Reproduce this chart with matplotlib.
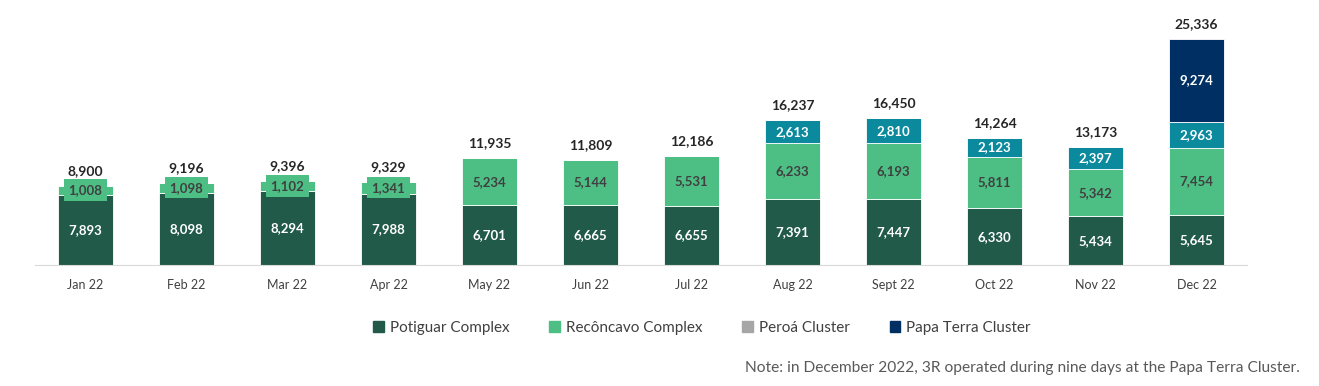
import matplotlib.pyplot as plt
from matplotlib.patches import Patch
import numpy as np

months = ['Jan 22', 'Feb 22', 'Mar 22', 'Apr 22', 'May 22', 'Jun 22',
          'Jul 22', 'Aug 22', 'Sept 22', 'Oct 22', 'Nov 22', 'Dec 22']
potiguar = [7893, 8098, 8294, 7988, 6701, 6665, 6655, 7391, 7447, 6330, 5434, 5645]
reconcavo = [1008, 1098, 1102, 1341, 5234, 5144, 5531, 6233, 6193, 5811, 5342, 7454]
peroa = [0, 0, 0, 0, 0, 0, 0, 2613, 2810, 2123, 2397, 2963]
papa_terra = [0, 0, 0, 0, 0, 0, 0, 0, 0, 0, 0, 9274]
totals = [8900, 9196, 9396, 9329, 11935, 11809, 12186, 16237, 16450, 14264, 13173, 25336]

c_pot = '#215a48'
c_rec = '#4dbf85'
c_per = '#0b8a9e'
c_pap = '#003063'
c_per_legend = '#a6a6a6'

plt.rcParams['font.family'] = ['Lato', 'DejaVu Sans']

fig = plt.figure(figsize=(13.19, 3.86), dpi=100)
ax = fig.add_axes([35 / 1319, 1 - 265 / 386, (1247 - 35) / 1319, 250 / 386])

x = np.arange(len(months))
w = 0.55
series = [(potiguar, c_pot, 'white'), (reconcavo, c_rec, '#404040'),
          (peroa, c_per, 'white'), (papa_terra, c_pap, 'white')]
bottom = np.zeros(len(months))
for vals, col, tcol in series:
    vals = np.array(vals)
    ax.bar(x, vals, w, bottom=bottom, color=col, edgecolor='white', linewidth=0.6)
    for i, v in enumerate(vals):
        if v <= 0:
            continue
        yc = bottom[i] + v / 2
        kw = {}
        if v < 2000:
            kw['bbox'] = dict(boxstyle='square,pad=0.35', fc=col, ec='none')
        ax.text(x[i], yc, f'{v:,}', ha='center', va='center', fontsize=9.5,
                fontweight='bold', color=tcol, **kw)
    bottom = bottom + vals

for i, t in enumerate(totals):
    ax.text(x[i], bottom[i] + 1000, f'{t:,}', ha='center', va='bottom',
            fontsize=10, fontweight='bold', color='#262626')

ax.set_xlim(-0.5, len(months) - 0.5)
ax.set_ylim(0, 28000)
ax.set_xticks(x)
ax.set_xticklabels(months, fontsize=9, color='#404040')
ax.tick_params(axis='x', length=0, pad=10)
ax.set_yticks([])
for s in ['top', 'right', 'left']:
    ax.spines[s].set_visible(False)
ax.spines['bottom'].set_color('#d9d9d9')

handles = [Patch(color=c_pot, label='Potiguar Complex'),
           Patch(color=c_rec, label='Recôncavo Complex'),
           Patch(color=c_per_legend, label='Peroá Cluster'),
           Patch(color=c_pap, label='Papa Terra Cluster')]
fig.legend(handles=handles, loc='center', bbox_to_anchor=(702 / 1319, 1 - 328 / 386),
           ncol=4, frameon=False, fontsize=11, handlelength=0.7, handleheight=0.7,
           handletextpad=0.4, columnspacing=2.6, labelcolor='#404040')

fig.text(1300 / 1319, 1 - 368 / 386, 'Note: in December 2022, 3R operated during nine days at the Papa Terra Cluster.',
         ha='right', va='center', fontsize=11.2, color='#595959')

fig.savefig('out.png', dpi=100)
